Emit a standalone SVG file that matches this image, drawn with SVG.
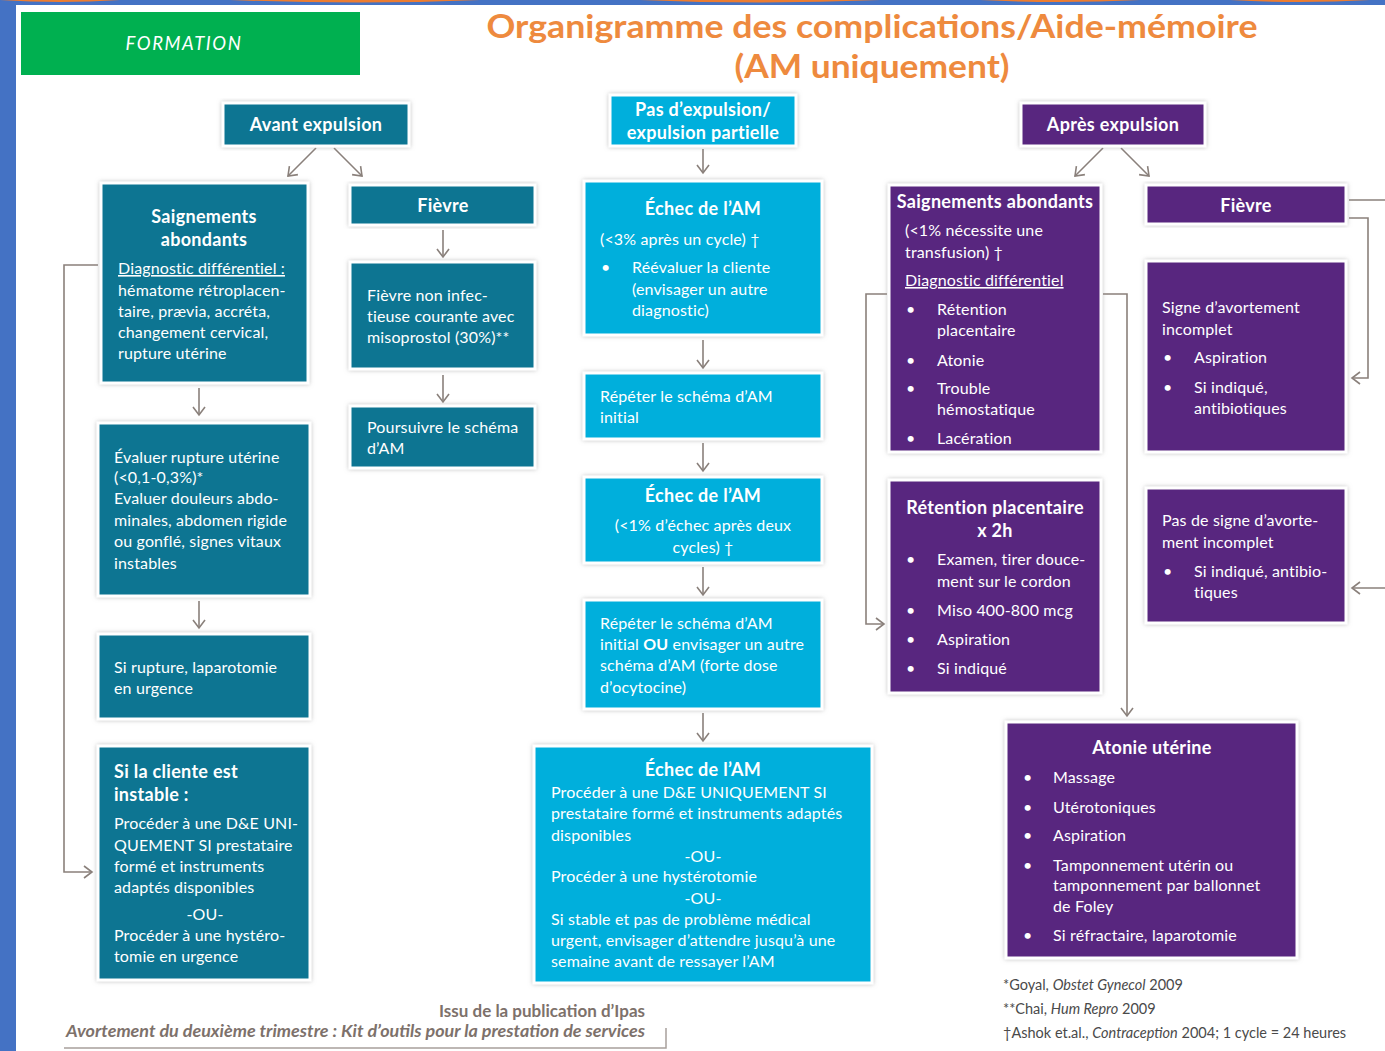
<svg xmlns="http://www.w3.org/2000/svg" width="1385" height="1051" viewBox="0 0 1385 1051">
  <defs>
    <filter id="shadow" x="-10%" y="-10%" width="120%" height="120%">
      <feDropShadow dx="0" dy="0" stdDeviation="2" flood-color="#9a9a9a" flood-opacity="0.6"/>
    </filter>
    <marker id="arr" viewBox="-10 -8 12 16" markerWidth="12" markerHeight="16" refX="0" refY="0" orient="auto" markerUnits="userSpaceOnUse">
      <path d="M-8,-6 L0,0 L-8,6" fill="none" stroke="#8a807b" stroke-width="1.6"/>
    </marker>
    <style>
      .teal { fill: #0b7592; }
      .cyan { fill: #05afdc; }
      .purp { fill: #58267f; }
      .box { stroke: #ffffff; stroke-width: 3; filter: url(#shadow); }
      text { font-family: Lato, "Open Sans", "Liberation Sans", sans-serif; fill: #ffffff; }
      .h { font-size: 18px; font-weight: bold; letter-spacing: 0.3px; }
      .t { font-size: 16px; letter-spacing: 0.15px; }
      .c { text-anchor: middle; }
      .u { text-decoration: underline; }
      .link { fill: none; stroke: #8a807b; stroke-width: 1.6; }
      .foot { fill: #4a4a4a; font-size: 14.5px; }
      .src { fill: #7d716b; font-size: 17px; font-weight: bold; }
    </style>
  </defs>

  <!-- page frame -->
  <rect x="0" y="0" width="1385" height="1051" fill="#ffffff"/>
  <rect x="0" y="0" width="16" height="1051" fill="#4472c4"/>
  <rect x="0" y="0" width="1385" height="5" fill="#4472c4"/>
  <path d="M0,0 Q60,4 120,0 Z M230,0 Q360,5 480,0 Z M640,0 Q760,5 880,0 Z M980,0 Q1060,4 1140,0 Z M1230,0 Q1300,4 1370,0 Z" fill="#ed7d31"/>

  <!-- header -->
  <g id="formation">
    <rect x="21" y="12" width="339" height="63" fill="#00b050"/>
    <text x="184" y="50" font-size="18.5" font-style="italic" text-anchor="middle" letter-spacing="1.6">FORMATION</text>
  </g>
  <g id="title">
    <text x="872" y="38" font-size="32" font-weight="bold" text-anchor="middle" style="fill:#ee8a3e" textLength="771" lengthAdjust="spacingAndGlyphs">Organigramme des complications/Aide-mémoire</text>
    <text x="872" y="78" font-size="32" font-weight="bold" text-anchor="middle" style="fill:#ee8a3e" textLength="275" lengthAdjust="spacingAndGlyphs">(AM uniquement)</text>
  </g>

  <!-- connectors -->
  <g id="connectors">
    <!-- avant expulsion -->
    <line class="link" x1="316" y1="148" x2="288" y2="176" marker-end="url(#arr)"/>
    <line class="link" x1="334" y1="148" x2="362" y2="176" marker-end="url(#arr)"/>
    <line class="link" x1="443" y1="230" x2="443" y2="257" marker-end="url(#arr)"/>
    <line class="link" x1="443" y1="375" x2="443" y2="402" marker-end="url(#arr)"/>
    <line class="link" x1="199" y1="388" x2="199" y2="415" marker-end="url(#arr)"/>
    <line class="link" x1="199" y1="601" x2="199" y2="628" marker-end="url(#arr)"/>
    <polyline class="link" points="98,265 64,265 64,872 92,872" marker-end="url(#arr)"/>
    <!-- pas d'expulsion -->
    <line class="link" x1="703" y1="149" x2="703" y2="173" marker-end="url(#arr)"/>
    <line class="link" x1="703" y1="340" x2="703" y2="368" marker-end="url(#arr)"/>
    <line class="link" x1="703" y1="443" x2="703" y2="471" marker-end="url(#arr)"/>
    <line class="link" x1="703" y1="567" x2="703" y2="595" marker-end="url(#arr)"/>
    <line class="link" x1="703" y1="713" x2="703" y2="741" marker-end="url(#arr)"/>
    <!-- après expulsion -->
    <line class="link" x1="1103" y1="148" x2="1075" y2="176" marker-end="url(#arr)"/>
    <line class="link" x1="1121" y1="148" x2="1149" y2="176" marker-end="url(#arr)"/>
    <polyline class="link" points="887,294 866,294 866,624 884,624" marker-end="url(#arr)"/>
    <polyline class="link" points="1103,294 1127,294 1127,716" marker-end="url(#arr)"/>
    <line class="link" x1="1349" y1="200" x2="1385" y2="200"/>
    <polyline class="link" points="1349,218 1368,218 1368,378 1352,378" marker-end="url(#arr)"/>
    <line class="link" x1="1385" y1="588" x2="1352" y2="588" marker-end="url(#arr)"/>
  </g>

  <!-- column: avant expulsion -->
  <g id="avant-expulsion">
    <rect class="box teal" x="223" y="103" width="186" height="43"/>
    <text class="h c" x="316" y="131">Avant expulsion</text>
  </g>
  <g id="saignements-avant">
    <rect class="box teal" x="101" y="183" width="207" height="200"/>
    <text class="h c" x="204" y="223">Saignements</text>
    <text class="h c" x="204" y="246">abondants</text>
    <text class="t u" x="118" y="274">Diagnostic différentiel :</text>
    <text class="t" x="118" y="296">hématome rétroplacen-</text>
    <text class="t" x="118" y="317">taire, prævia, accréta,</text>
    <text class="t" x="118" y="338">changement cervical,</text>
    <text class="t" x="118" y="359">rupture utérine</text>
  </g>
  <g id="fievre-avant">
    <rect class="box teal" x="350" y="185" width="185" height="40"/>
    <text class="h c" x="443" y="212">Fièvre</text>
  </g>
  <g id="fievre-non-infectieuse">
    <rect class="box teal" x="350" y="262" width="185" height="107"/>
    <text class="t" x="367" y="301">Fièvre non infec-</text>
    <text class="t" x="367" y="322">tieuse courante avec</text>
    <text class="t" x="367" y="343">misoprostol (30%)**</text>
  </g>
  <g id="poursuivre">
    <rect class="box teal" x="350" y="406" width="185" height="62"/>
    <text class="t" x="367" y="433">Poursuivre le schéma</text>
    <text class="t" x="367" y="454">d’AM</text>
  </g>
  <g id="evaluer-rupture">
    <rect class="box teal" x="98" y="423" width="212" height="173"/>
    <text class="t" x="114" y="463">Évaluer rupture utérine</text>
    <text class="t" x="114" y="483">(&lt;0,1-0,3%)*</text>
    <text class="t" x="114" y="504">Evaluer douleurs abdo-</text>
    <text class="t" x="114" y="526">minales, abdomen rigide</text>
    <text class="t" x="114" y="547">ou gonflé, signes vitaux</text>
    <text class="t" x="114" y="569">instables</text>
  </g>
  <g id="si-rupture">
    <rect class="box teal" x="98" y="634" width="212" height="85"/>
    <text class="t" x="114" y="673">Si rupture, laparotomie</text>
    <text class="t" x="114" y="694">en urgence</text>
  </g>
  <g id="cliente-instable">
    <rect class="box teal" x="98" y="746" width="212" height="234"/>
    <text class="h" x="114" y="778">Si la cliente est</text>
    <text class="h" x="114" y="801">instable :</text>
    <text class="t" x="114" y="829">Procéder à une D&amp;E UNI-</text>
    <text class="t" x="114" y="851">QUEMENT SI prestataire</text>
    <text class="t" x="114" y="872">formé et instruments</text>
    <text class="t" x="114" y="893">adaptés disponibles</text>
    <text class="t c" x="205" y="920">-OU-</text>
    <text class="t" x="114" y="941">Procéder à une hystéro-</text>
    <text class="t" x="114" y="962">tomie en urgence</text>
  </g>

  <!-- column: pas d'expulsion -->
  <g id="pas-expulsion">
    <rect class="box cyan" x="610" y="95" width="186" height="51"/>
    <text class="h c" x="703" y="116">Pas d’expulsion/</text>
    <text class="h c" x="703" y="139">expulsion partielle</text>
  </g>
  <g id="echec-1">
    <rect class="box cyan" x="584" y="181" width="238" height="154"/>
    <text class="h c" x="703" y="215">Échec de l’AM</text>
    <text class="t" x="600" y="245">(&lt;3% après un cycle) †</text>
    <text class="t" x="601" y="273">•</text>
    <text class="t" x="632" y="273">Réévaluer la cliente</text>
    <text class="t" x="632" y="295">(envisager un autre</text>
    <text class="t" x="632" y="316">diagnostic)</text>
  </g>
  <g id="repeter-1">
    <rect class="box cyan" x="584" y="373" width="238" height="66"/>
    <text class="t" x="600" y="402">Répéter le schéma d’AM</text>
    <text class="t" x="600" y="423">initial</text>
  </g>
  <g id="echec-2">
    <rect class="box cyan" x="584" y="477" width="238" height="86"/>
    <text class="h c" x="703" y="502">Échec de l’AM</text>
    <text class="t c" x="703" y="531">(&lt;1% d’échec après deux</text>
    <text class="t c" x="703" y="553">cycles) †</text>
  </g>
  <g id="repeter-2">
    <rect class="box cyan" x="584" y="600" width="238" height="109"/>
    <text class="t" x="600" y="629">Répéter le schéma d’AM</text>
    <text class="t" x="600" y="650">initial <tspan font-weight="bold">OU</tspan> envisager un autre</text>
    <text class="t" x="600" y="671">schéma d’AM (forte dose</text>
    <text class="t" x="600" y="693">d’ocytocine)</text>
  </g>
  <g id="echec-3">
    <rect class="box cyan" x="534" y="746" width="338" height="237"/>
    <text class="h c" x="703" y="776">Échec de l’AM</text>
    <text class="t" x="551" y="798">Procéder à une D&amp;E UNIQUEMENT SI</text>
    <text class="t" x="551" y="819">prestataire formé et instruments adaptés</text>
    <text class="t" x="551" y="841">disponibles</text>
    <text class="t c" x="703" y="862">-OU-</text>
    <text class="t" x="551" y="882">Procéder à une hystérotomie</text>
    <text class="t c" x="703" y="904">-OU-</text>
    <text class="t" x="551" y="925">Si stable et pas de problème médical</text>
    <text class="t" x="551" y="946">urgent, envisager d’attendre jusqu’à une</text>
    <text class="t" x="551" y="967">semaine avant de ressayer l’AM</text>
  </g>

  <!-- column: après expulsion -->
  <g id="apres-expulsion">
    <rect class="box purp" x="1021" y="103" width="184" height="43"/>
    <text class="h c" x="1113" y="131">Après expulsion</text>
  </g>
  <g id="saignements-apres">
    <rect class="box purp" x="889" y="185" width="212" height="267"/>
    <text class="h c" x="995" y="208">Saignements abondants</text>
    <text class="t" x="905" y="236">(&lt;1% nécessite une</text>
    <text class="t" x="905" y="258">transfusion) †</text>
    <text class="t u" x="905" y="286">Diagnostic différentiel</text>
    <text class="t" x="906" y="315">•</text>
    <text class="t" x="937" y="315">Rétention</text>
    <text class="t" x="937" y="336">placentaire</text>
    <text class="t" x="906" y="366">•</text>
    <text class="t" x="937" y="366">Atonie</text>
    <text class="t" x="906" y="394">•</text>
    <text class="t" x="937" y="394">Trouble</text>
    <text class="t" x="937" y="415">hémostatique</text>
    <text class="t" x="906" y="444">•</text>
    <text class="t" x="937" y="444">Lacération</text>
  </g>
  <g id="fievre-apres">
    <rect class="box purp" x="1146" y="185" width="200" height="39"/>
    <text class="h c" x="1246" y="212">Fièvre</text>
  </g>
  <g id="signe-incomplet">
    <rect class="box purp" x="1146" y="261" width="200" height="191"/>
    <text class="t" x="1162" y="313">Signe d’avortement</text>
    <text class="t" x="1162" y="335">incomplet</text>
    <text class="t" x="1163" y="363">•</text>
    <text class="t" x="1194" y="363">Aspiration</text>
    <text class="t" x="1163" y="393">•</text>
    <text class="t" x="1194" y="393">Si indiqué,</text>
    <text class="t" x="1194" y="414">antibiotiques</text>
  </g>
  <g id="retention-placentaire">
    <rect class="box purp" x="889" y="480" width="212" height="213"/>
    <text class="h c" x="995" y="514">Rétention placentaire</text>
    <text class="h c" x="995" y="537">x 2h</text>
    <text class="t" x="906" y="565">•</text>
    <text class="t" x="937" y="565">Examen, tirer douce-</text>
    <text class="t" x="937" y="587">ment sur le cordon</text>
    <text class="t" x="906" y="616">•</text>
    <text class="t" x="937" y="616">Miso 400-800 mcg</text>
    <text class="t" x="906" y="645">•</text>
    <text class="t" x="937" y="645">Aspiration</text>
    <text class="t" x="906" y="674">•</text>
    <text class="t" x="937" y="674">Si indiqué</text>
  </g>
  <g id="pas-de-signe">
    <rect class="box purp" x="1146" y="488" width="200" height="135"/>
    <text class="t" x="1162" y="526">Pas de signe d’avorte-</text>
    <text class="t" x="1162" y="548">ment incomplet</text>
    <text class="t" x="1163" y="577">•</text>
    <text class="t" x="1194" y="577">Si indiqué, antibio-</text>
    <text class="t" x="1194" y="598">tiques</text>
  </g>
  <g id="atonie-uterine">
    <rect class="box purp" x="1006" y="722" width="291" height="236"/>
    <text class="h c" x="1152" y="754">Atonie utérine</text>
    <text class="t" x="1023" y="783">•</text>
    <text class="t" x="1053" y="783">Massage</text>
    <text class="t" x="1023" y="813">•</text>
    <text class="t" x="1053" y="813">Utérotoniques</text>
    <text class="t" x="1023" y="841">•</text>
    <text class="t" x="1053" y="841">Aspiration</text>
    <text class="t" x="1023" y="871">•</text>
    <text class="t" x="1053" y="871">Tamponnement utérin ou</text>
    <text class="t" x="1053" y="891">tamponnement par ballonnet</text>
    <text class="t" x="1053" y="912">de Foley</text>
    <text class="t" x="1023" y="941">•</text>
    <text class="t" x="1053" y="941">Si réfractaire, laparotomie</text>
  </g>

  <!-- references and source -->
  <g id="references">
    <text class="foot" x="1003" y="990">*Goyal, <tspan font-style="italic">Obstet Gynecol</tspan> 2009</text>
    <text class="foot" x="1003" y="1014">**Chai, <tspan font-style="italic">Hum Repro</tspan> 2009</text>
    <text class="foot" x="1003" y="1038">†Ashok et.al., <tspan font-style="italic">Contraception</tspan> 2004; 1 cycle = 24 heures</text>
  </g>
  <g id="source">
    <text class="src" x="645" y="1017" text-anchor="end">Issu de la publication d’Ipas</text>
    <text class="src" x="66" y="1037" font-style="italic" textLength="579" lengthAdjust="spacingAndGlyphs">Avortement du deuxième trimestre : Kit d’outils pour la prestation de services</text>
    <polyline points="64,1048 666,1048 666,1028" fill="none" stroke="#a8a09c" stroke-width="1.5"/>
  </g>
</svg>
